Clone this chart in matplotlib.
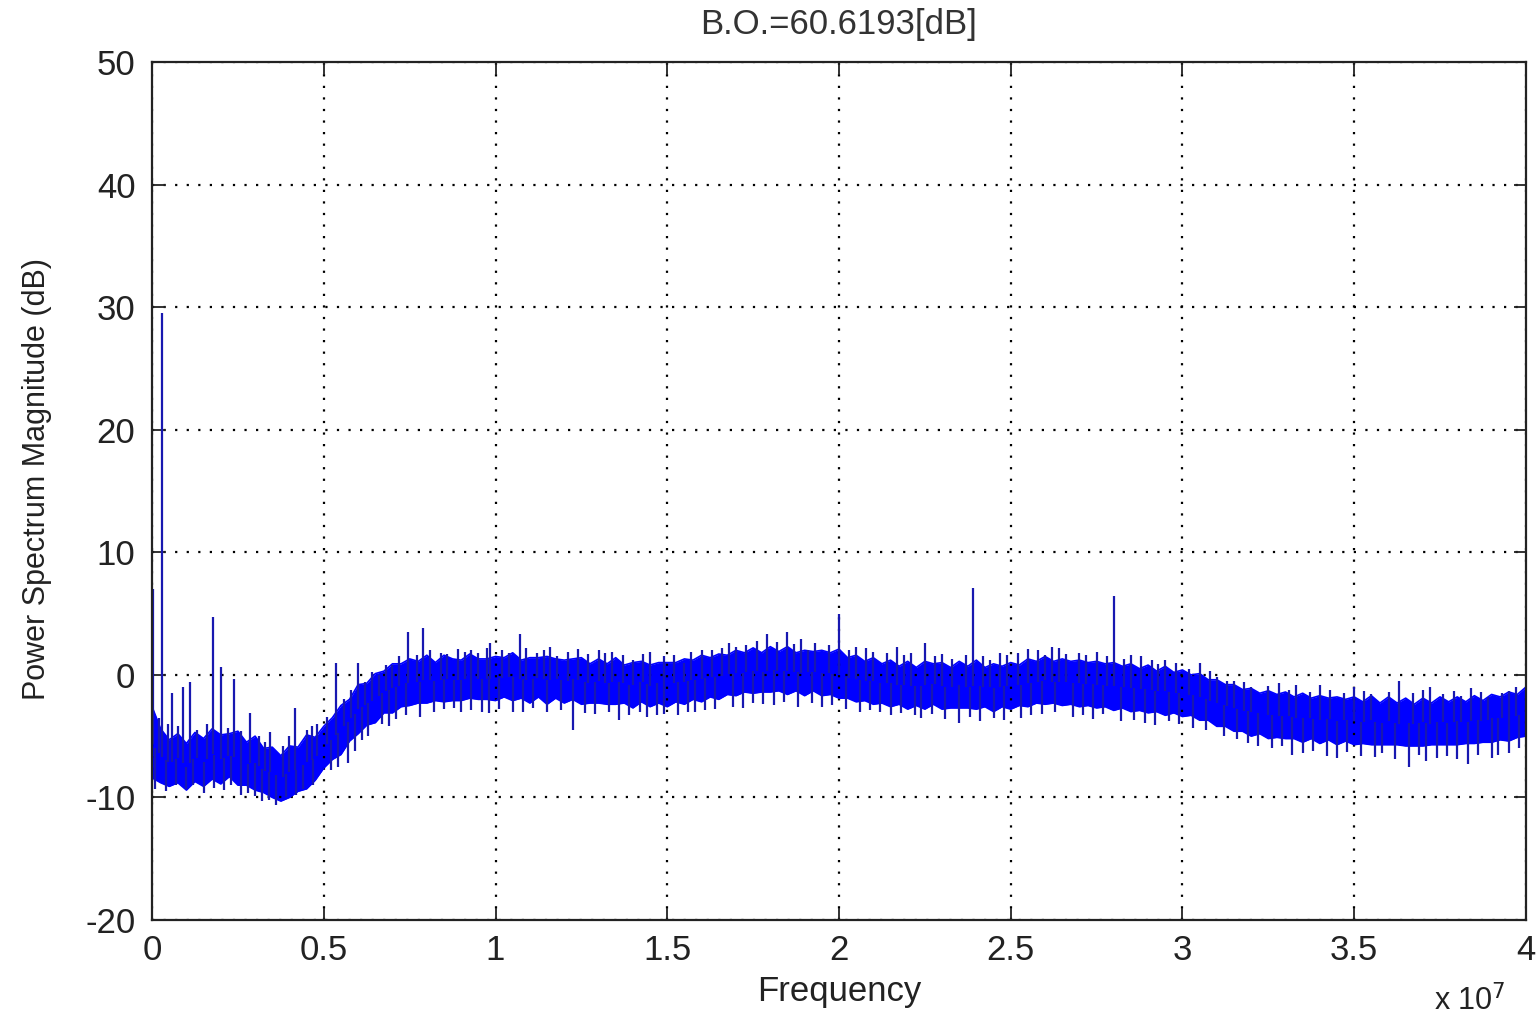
import numpy as np
import matplotlib
matplotlib.use("Agg")
import matplotlib.pyplot as plt
from matplotlib.ticker import FuncFormatter

plt.rcParams['font.family'] = ['Liberation Sans', 'DejaVu Sans']
plt.rcParams['axes.unicode_minus'] = False

# frequency grid of the dense noise band, in units of 1e7 Hz (step 0.025)
band_f = np.arange(161) * 0.025

# upper / lower edge of the dense noise band (dB)
band_hi = [
    -2.6, -4.4, -5.3, -4.8, -5.6, -4.7, -5.2, -4.4, -4.9, -4.8, -4.6, -5.5, -5.0, -6.0, -5.9, -6.6, -5.8, -5.9, -4.9, -5.1,
    -4.2, -3.5, -2.5, -2.0, -0.8, -0.7, 0.1, 0.3, 0.9, 0.9, 1.3, 1.1, 1.6, 1.0, 1.6, 1.3, 1.2, 1.7, 1.3, 1.3,
    1.5, 1.4, 1.8, 1.2, 1.4, 1.4, 1.5, 1.3, 1.2, 1.3, 1.4, 0.9, 1.3, 0.9, 1.4, 0.8, 1.0, 1.1, 0.8, 1.0,
    1.0, 1.0, 1.3, 1.2, 1.6, 1.4, 1.7, 1.6, 2.0, 1.8, 2.2, 1.8, 2.3, 1.9, 2.3, 1.8, 2.0, 1.9, 2.0, 1.8,
    2.1, 1.4, 1.6, 1.1, 1.4, 0.9, 1.2, 0.7, 1.1, 0.6, 1.1, 0.9, 1.0, 0.6, 1.1, 0.7, 1.2, 0.6, 0.9, 0.7,
    1.0, 0.8, 1.3, 1.1, 1.5, 1.1, 1.3, 1.1, 1.2, 1.0, 1.1, 0.9, 1.0, 0.7, 0.9, 0.5, 0.8, 0.3, 0.7, 0.2,
    0.4, 0.0, 0.1, -0.4, -0.4, -0.8, -0.8, -1.2, -1.1, -1.5, -1.3, -1.6, -1.4, -1.8, -1.5, -1.9, -1.7, -1.9, -1.8, -2.0,
    -1.8, -2.2, -1.7, -2.3, -1.8, -2.3, -1.9, -2.4, -1.9, -2.3, -1.8, -2.2, -1.8, -2.2, -1.7, -2.1, -1.6, -1.8, -1.4, -1.6,
    -1.0,
]
band_lo = [
    -8.4, -8.8, -9.1, -8.8, -9.4, -8.7, -9.1, -8.5, -8.9, -8.3, -9.0, -9.0, -9.4, -9.6, -10.0, -10.3, -10.0, -9.5, -9.3, -8.6,
    -7.6, -6.9, -6.5, -5.4, -4.8, -4.1, -3.9, -3.1, -3.1, -2.6, -2.5, -2.3, -2.3, -2.1, -2.2, -2.1, -2.1, -1.9, -2.0, -2.0,
    -2.1, -1.8, -2.1, -1.9, -2.3, -1.8, -2.4, -1.9, -2.3, -2.0, -2.4, -2.3, -2.3, -2.4, -2.4, -2.3, -2.7, -2.2, -2.6, -2.3,
    -2.6, -2.2, -2.4, -2.0, -2.2, -1.8, -2.0, -1.6, -1.7, -1.4, -1.5, -1.4, -1.4, -1.3, -1.6, -1.3, -1.7, -1.3, -1.7, -1.6,
    -1.9, -1.9, -2.2, -2.1, -2.4, -2.3, -2.6, -2.4, -2.8, -2.5, -2.8, -2.4, -2.8, -2.7, -2.7, -2.7, -2.8, -2.6, -3.0, -2.6,
    -2.8, -2.5, -2.6, -2.3, -2.4, -2.3, -2.5, -2.4, -2.6, -2.5, -2.7, -2.6, -2.9, -2.7, -3.0, -2.9, -3.1, -3.0, -3.3, -3.1,
    -3.4, -3.3, -3.7, -3.7, -4.2, -4.2, -4.6, -4.6, -5.0, -4.8, -5.2, -5.1, -5.2, -5.2, -5.5, -5.2, -5.6, -5.3, -5.7, -5.4,
    -5.7, -5.6, -5.7, -5.7, -5.7, -5.7, -5.8, -5.8, -5.8, -5.7, -5.7, -5.7, -5.7, -5.6, -5.6, -5.5, -5.5, -5.3, -5.4, -5.1,
    -5.0,
]

# narrow peaks sticking out above the band (freq in 1e7 Hz, level in dB)
peak_f = [0.003, 0.02, 0.03, 0.045, 0.058, 0.075, 0.09, 0.11, 0.13, 0.16, 0.177, 0.20, 0.22, 0.24, 0.26,
          0.285, 0.31, 0.33, 0.343, 0.38, 0.40, 0.416, 0.45, 0.465, 0.48,
          0.51, 0.536, 0.56, 0.58, 0.60, 0.62, 0.64, 0.66, 0.68, 0.70, 0.72, 0.745, 0.77, 0.79,
          0.81, 0.84, 0.86, 0.89, 0.91, 0.93, 0.95, 0.975, 0.985,
          1.02, 1.04, 1.07, 1.09, 1.12, 1.14, 1.16, 1.18, 1.21, 1.24, 1.27, 1.30, 1.32, 1.34,
          1.37, 1.40, 1.43, 1.45, 1.49,
          1.52, 1.55, 1.57, 1.60, 1.63, 1.66, 1.68, 1.70, 1.73, 1.76, 1.79, 1.82, 1.85, 1.87,
          1.89, 1.91, 1.93, 1.97,
          2.00, 2.03, 2.05, 2.08, 2.10, 2.14, 2.17, 2.19, 2.21, 2.25, 2.28, 2.30, 2.33, 2.37,
          2.39, 2.42, 2.44, 2.47, 2.49,
          2.52, 2.55, 2.58, 2.60, 2.62, 2.64, 2.66, 2.70, 2.72, 2.75, 2.78, 2.80, 2.83, 2.85,
          2.88, 2.91, 2.93, 2.95, 2.98,
          3.02, 3.05, 3.08, 3.10, 3.13, 3.15, 3.18, 3.20, 3.25, 3.28, 3.31, 3.33, 3.37, 3.40,
          3.43, 3.47,
          3.50, 3.53, 3.55, 3.60, 3.63, 3.67, 3.70, 3.72, 3.76, 3.79, 3.81, 3.84, 3.87, 3.89,
          3.93, 3.95, 3.97]
peak_db = [7.0, -3.5, 29.5, -4.0, -1.5, -4.2, -1.0, -0.6, -4.5, -4.0, 4.7, 0.6, -4.3, -0.3, -4.6,
           -3.1, -5.0, -5.5, -4.7, -5.8, -5.0, -2.7, -4.5, -4.2, -4.0,
           -3.4, 1.0, -2.0, -1.2, 1.0, -0.6, 0.2, 0.0, 0.8, 0.8, 1.5, 3.5, 1.6, 3.8,
           2.0, 1.8, 1.7, 2.1, 1.9, 2.0, 1.8, 2.2, 2.6,
           2.0, 1.8, 3.3, 2.2, 1.8, 2.0, 2.3, 1.5, 1.9, 2.1, 1.7, 2.0, 1.8, 1.9,
           1.6, 1.2, 1.7, 1.9, 1.5,
           1.6, 1.0, 1.9, 2.0, 2.0, 2.2, 2.6, 2.3, 2.4, 2.8, 3.3, 2.7, 3.5, 2.5,
           2.9, 2.0, 2.6, 2.4,
           5.0, 2.0, 2.3, 2.2, 1.9, 1.8, 2.3, 1.6, 1.8, 2.6, 1.5, 1.7, 1.3, 1.6,
           7.1, 1.5, 1.2, 1.8, 1.6,
           1.8, 2.1, 2.0, 1.6, 2.3, 2.2, 1.7, 1.8, 1.6, 1.9, 1.5, 6.4, 1.3, 1.6,
           1.5, 1.2, 0.9, 1.2, 1.0,
           0.5, 1.0, 0.3, -0.2, -0.5, -0.5, -0.6, -1.0, -0.9, -0.7, -1.2, -0.8, -1.4, -0.8,
           -1.2, -1.5,
           -1.0, -1.3, -1.6, -1.4, -0.5, -1.5, -1.2, -1.0, -1.6, -1.3, -1.7, -1.1, -1.4, -1.8,
           -1.5, -1.3, -1.0]

# narrow dips below the band
dip_f = [0.01, 0.04, 0.07, 0.10, 0.12, 0.15, 0.18, 0.21, 0.23, 0.26, 0.28, 0.30, 0.32, 0.34,
         0.36, 0.39, 0.42, 0.44, 0.47,
         0.52, 0.54, 0.57, 0.59, 0.61, 0.63, 0.67, 0.69, 0.71, 0.74, 0.78, 0.82, 0.85, 0.88,
         0.90, 0.93, 0.96, 0.98,
         1.01, 1.05, 1.08, 1.11, 1.15, 1.19, 1.225, 1.26, 1.29, 1.33, 1.36, 1.39, 1.42, 1.44,
         1.47, 1.49,
         1.53, 1.56, 1.58, 1.61, 1.64, 1.69, 1.72, 1.75, 1.78, 1.81, 1.84, 1.88, 1.92, 1.95,
         1.98,
         2.02, 2.06, 2.09, 2.12, 2.15, 2.18, 2.22, 2.24, 2.27, 2.31, 2.35, 2.38, 2.41, 2.45,
         2.48,
         2.53, 2.56, 2.59, 2.63, 2.68, 2.71, 2.74, 2.77, 2.82, 2.86, 2.89, 2.92, 2.96, 2.99,
         3.03, 3.07, 3.12, 3.16, 3.19, 3.22, 3.26, 3.29, 3.32, 3.35, 3.38, 3.42, 3.45, 3.48,
         3.52, 3.56, 3.58, 3.62, 3.66, 3.69, 3.71, 3.74, 3.77, 3.80, 3.83, 3.86, 3.90, 3.92,
         3.95, 3.98]
dip_db = [-9.3, -9.5, -9.0, -9.3, -9.0, -9.6, -9.2, -9.4, -9.0, -9.8, -9.6, -9.9, -10.3, -10.2,
          -10.6, -10.0, -9.8, -9.3, -9.0,
          -7.8, -7.5, -7.2, -6.2, -5.3, -5.0, -4.0, -4.2, -3.6, -3.3, -3.4, -3.0, -2.8, -2.7,
          -3.0, -2.9, -3.0, -3.1,
          -2.8, -3.0, -3.0, -2.7, -3.0, -2.9, -4.5, -3.1, -3.2, -3.0, -3.7, -3.3, -3.0, -3.4,
          -3.3, -3.2,
          -3.3, -3.0, -3.0, -2.9, -2.8, -2.6, -2.7, -2.3, -2.4, -2.5, -2.2, -2.6, -2.3, -2.6,
          -2.5,
          -2.8, -3.0, -2.9, -3.0, -3.3, -3.1, -3.3, -3.5, -3.2, -3.6, -3.9, -3.4, -3.8, -3.5,
          -3.7,
          -3.5, -3.3, -3.2, -3.0, -3.4, -3.3, -3.6, -3.2, -3.8, -3.7, -3.9, -4.1, -3.8, -4.0,
          -4.3, -4.5, -5.0, -5.2, -5.6, -5.8, -6.0, -5.8, -6.5, -6.4, -6.2, -6.6, -6.8, -6.3,
          -6.6, -6.7, -6.4, -6.9, -7.5, -6.5, -7.0, -6.8, -6.6, -6.9, -7.3, -6.5, -6.8, -6.5,
          -6.4, -6.0]

title_txt = "B.O.=60.6193[dB]"

scale = 1e7
f_hz = band_f * scale
hi = np.array(band_hi)
lo = np.array(band_lo)
mid = (hi + lo) / 2

fig = plt.figure(figsize=(15.39, 10.23), dpi=100)
ax = fig.add_axes([0.0988, 0.1007, 0.8927, 0.8387])

blue = '#0000ff'
ax.fill_between(f_hz, lo, hi, color=blue, lw=0)
ax.plot(f_hz, hi, color=blue, lw=1.2)
ax.plot(f_hz, lo, color=blue, lw=1.2)

spike_col = '#1818b0'
pf = np.array(peak_f) * scale
ax.vlines(pf, np.interp(pf, f_hz, mid), peak_db, color=spike_col, lw=1.6)
df = np.array(dip_f) * scale
ax.vlines(df, dip_db, np.interp(df, f_hz, mid), color=spike_col, lw=1.6)

ax.set_xlim(0, 4e7)
ax.set_ylim(-20, 50)
ax.set_xticks(np.arange(0, 4.01, 0.5) * scale)
ax.set_yticks(np.arange(-20, 51, 10))
ax.xaxis.set_major_formatter(FuncFormatter(lambda v, p: f"{v / scale:g}"))

ax.grid(True, color='black', linestyle=(0, (1, 4.2)), lw=1.6)
ax.tick_params(direction='in', length=9, width=1.3, top=True, right=True,
               labelsize=25, colors='#222222')
ax.tick_params(axis='y', pad=12)
ax.tick_params(axis='x', pad=10)
for s in ax.spines.values():
    s.set_linewidth(1.6)
    s.set_color('#222222')

ax.set_title(title_txt, fontsize=25, color='#333333', pad=20)
ax.set_xlabel("Frequency", fontsize=25, color='#222222', labelpad=6)
ax.set_ylabel("Power Spectrum Magnitude (dB)", fontsize=22, color='#222222')
ax.yaxis.set_label_coords(-0.073, 0.514)
fig.text(0.932, 0.012, r"x 10$^7$", fontsize=22, color='#222222')

fig.savefig("out.png", dpi=100)
